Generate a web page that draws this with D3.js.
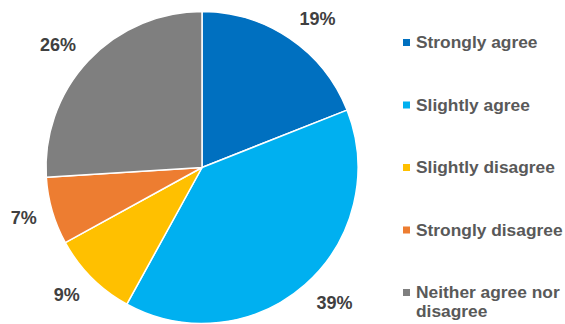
<!DOCTYPE html>
<html>
<head>
<meta charset="utf-8">
<script src="https://cdn.jsdelivr.net/npm/d3@7"></script>
<style>
  html, body { margin: 0; padding: 0; background: #ffffff; }
  svg { display: block; }
</style>
</head>
<body>
<svg id="chart" width="565" height="324"></svg>
<script>
// Survey responses, shares in percent
const categories = ["Strongly agree", "Slightly agree", "Slightly disagree", "Strongly disagree", "Neither agree nor disagree"];
const values = [19, 39, 9, 7, 26];
const colors = ["#0070C0", "#00B0F0", "#FFC000", "#ED7D31", "#7F7F7F"];
const legendLines = [["Strongly agree"], ["Slightly agree"], ["Slightly disagree"], ["Strongly disagree"], ["Neither agree nor", "disagree"]];

const svg = d3.select("#chart");
const cx = 202, cy = 167.5, radius = 156;

const data = categories.map((c, i) => ({ name: c, value: values[i], color: colors[i] }));

const pie = d3.pie().value(d => d.value).sort(null);
const arc = d3.arc().innerRadius(0).outerRadius(radius);
const arcs = pie(data);

const g = svg.append("g").attr("transform", `translate(${cx},${cy})`);

g.selectAll("path.slice")
  .data(arcs)
  .enter().append("path")
  .attr("class", "slice")
  .attr("d", arc)
  .attr("fill", d => d.data.color)
  .attr("stroke", "#ffffff")
  .attr("stroke-width", 1.5)
  .attr("stroke-linejoin", "round");

// Value labels placed just outside the rim
const labelR = radius + 14;
g.selectAll("text.val")
  .data(arcs)
  .enter().append("text")
  .attr("class", "val")
  .each(function(d) {
    const a = (d.startAngle + d.endAngle) / 2;
    const s = Math.sin(a), c = Math.cos(a);
    const px = s * labelR, py = -c * labelR;
    const anchor = s > 0.15 ? "start" : (s < -0.15 ? "end" : "middle");
    const x = px + (anchor === "start" ? 2 : anchor === "end" ? -2 : 0);
    const yCenter = py - c * 10;
    d3.select(this)
      .attr("x", x)
      .attr("y", yCenter + 6.5)
      .attr("text-anchor", anchor)
      .text(d.data.value + "%");
  })
  .attr("font-family", "'Liberation Sans', Arial, sans-serif")
  .attr("font-weight", "bold")
  .attr("font-size", 18)
  .attr("fill", "#404040");

// Legend
const legendY = d3.scalePoint().domain(categories).range([43, 293]);
const legend = svg.append("g");
const items = legend.selectAll("g.item")
  .data(data)
  .enter().append("g")
  .attr("class", "item")
  .attr("transform", d => `translate(0,${legendY(d.name)})`);

items.append("rect")
  .attr("x", 403)
  .attr("y", -4)
  .attr("width", 7)
  .attr("height", 7)
  .attr("fill", d => d.color);

items.append("text")
  .attr("transform", "translate(416,5.3) scale(1.085,1)")
  .attr("font-family", "'Liberation Sans', Arial, sans-serif")
  .attr("font-weight", "bold")
  .attr("font-size", 16)
  .attr("fill", "#595959")
  .each(function(d, i) {
    const t = d3.select(this);
    legendLines[i].forEach((line, j) => {
      t.append("tspan").attr("x", 0).attr("dy", j === 0 ? 0 : 18.5).text(line);
    });
  });
</script>
</body>
</html>
